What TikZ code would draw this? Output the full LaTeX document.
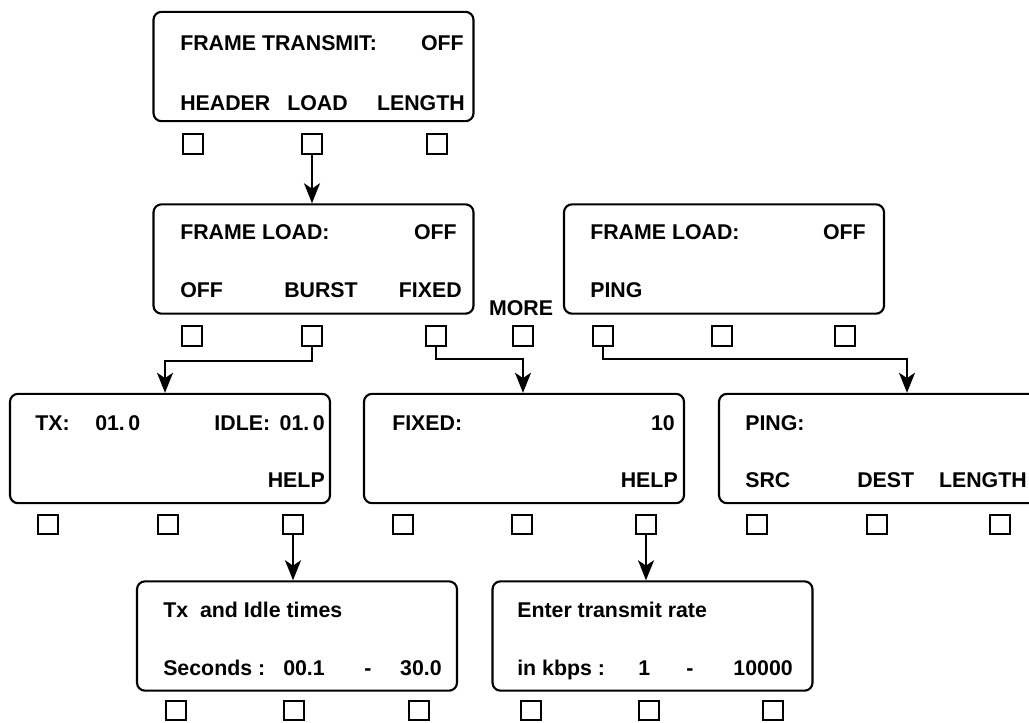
\documentclass[tikz,border=0pt]{standalone}
\usepackage{fontspec}
\setmainfont{Liberation Sans}
\usepackage{tikz}
\usetikzlibrary{arrows.meta}

\begin{document}
\begin{tikzpicture}[x=0.75pt,y=-0.75pt,
	screen/.style={draw,line width=1.6pt,rounded corners=6pt,minimum width=240pt,minimum height=82pt,inner sep=0pt},
	key/.style={draw,line width=1.3pt,minimum size=14.5pt,inner sep=0pt},
	lcd/.style={inner sep=0pt,font=\fontsize{16}{18}\selectfont\bfseries},
	link/.style={line width=1.4pt,-{Stealth[length=15pt,width=12pt,inset=4pt]}}]
		\clip (0,0) rectangle (1029,722);
		% screens
		\node[screen] (scr1) at (313.5,66.5) {};
		\node[screen] (scr2) at (313.5,259) {};
		\node[screen] (scr3) at (724,259) {};
		\node[screen] (scr4) at (170,448.5) {};
		\node[screen] (scr5) at (524,448.5) {};
		\node[screen] (scr6) at (879,448.5) {};
		\node[screen] (scr7) at (297,636) {};
		\node[screen] (scr8) at (652.5,636) {};
		% soft keys under the screens
		\foreach \x [count=\i] in {193,312,437}
			\node[key] (k1\i) at (\x,144) {};
		\foreach \x [count=\i] in {192,312,436,523,603,722,845}
			\node[key] (k2\i) at (\x,336) {};
		\foreach \x [count=\i] in {48,168,293,403,522,646,757,877,1000}
			\node[key] (k3\i) at (\x,524.5) {};
		\foreach \x [count=\i] in {176,294,419,531,649,773}
			\node[key] (k4\i) at (\x,710.5) {};
		% frame transmit
		\node[lcd,anchor=base west] (t1a) at (180,50) {FRAME TRANSMIT:};
		\node[lcd,anchor=base east] (t1b) at (464,50) {OFF};
		\node[lcd,anchor=base west] (t1c) at (180,110) {HEADER};
		\node[lcd,anchor=base west] (t1d) at (287,110) {LOAD};
		\node[lcd,anchor=base east] (t1e) at (465,110) {LENGTH};
		% frame load, page 1 and 2
		\node[lcd,anchor=base west] (t2a) at (180,239) {FRAME LOAD:};
		\node[lcd,anchor=base east] (t2b) at (457,239) {OFF};
		\node[lcd,anchor=base west] (t2c) at (180,297) {OFF};
		\node[lcd,anchor=base west] (t2d) at (284,297) {BURST};
		\node[lcd,anchor=base east] (t2e) at (462,297) {FIXED};
		\node[lcd,anchor=base] (more) at (521,315) {MORE};
		\node[lcd,anchor=base west] (t3a) at (590,239) {FRAME LOAD:};
		\node[lcd,anchor=base east] (t3b) at (866,239) {OFF};
		\node[lcd,anchor=base west] (t3c) at (590,297) {PING};
		% burst, fixed, ping
		\node[lcd,anchor=base west] (t4a) at (35,430) {TX:};
		\node[lcd,anchor=base west] (t4b) at (95,430) {01.\,0};
		\node[lcd,anchor=base east] (t4c) at (325,430) {IDLE:\, 01.\,0};
		\node[lcd,anchor=base east] (t4d) at (325,487) {HELP};
		\node[lcd,anchor=base west] (t5a) at (392,430) {FIXED:};
		\node[lcd,anchor=base east] (t5b) at (675,430) {10};
		\node[lcd,anchor=base east] (t5c) at (678,487) {HELP};
		\node[lcd,anchor=base west] (t6a) at (745,430) {PING:};
		\node[lcd,anchor=base west] (t6b) at (745,487) {SRC};
		\node[lcd,anchor=base west] (t6c) at (857,487) {DEST};
		\node[lcd,anchor=base east] (t6d) at (1027,487) {LENGTH};
		% help screens
		\node[lcd,anchor=base west] (t7a) at (163,617) {Tx\ \ and Idle times};
		\node[lcd,anchor=base west] (t7b) at (163,675) {Seconds :};
		\node[lcd,anchor=base west] (t7c) at (283,675) {00.1};
		\node[lcd,anchor=base] (t7d) at (368,675) {-};
		\node[lcd,anchor=base east] (t7e) at (442,675) {30.0};
		\node[lcd,anchor=base west] (t8a) at (517,617) {Enter transmit rate};
		\node[lcd,anchor=base west] (t8b) at (517,675) {in kbps :};
		\node[lcd,anchor=base west] (t8c) at (638,675) {1};
		\node[lcd,anchor=base] (t8d) at (690,675) {-};
		\node[lcd,anchor=base east] (t8e) at (793,675) {10000};
		% key presses
		\coordinate (j1) at (165,361);
		\coordinate (j2) at (523,359);
		\coordinate (j3) at (907,359);
		\draw[link] (k12.south) -- (k12.south |- scr2.north);
		\draw[link] (k22.south) |- (j1) -- (j1 |- scr4.north);
		\draw[link] (k23.south) |- (j2) -- (j2 |- scr5.north);
		\draw[link] (k25.south) |- (j3) -- (j3 |- scr6.north);
		\draw[link] (k33.south) -- (k33.south |- scr7.north);
		\draw[link] (k36.south) -- (k36.south |- scr8.north);
	\end{tikzpicture}
\end{document}
